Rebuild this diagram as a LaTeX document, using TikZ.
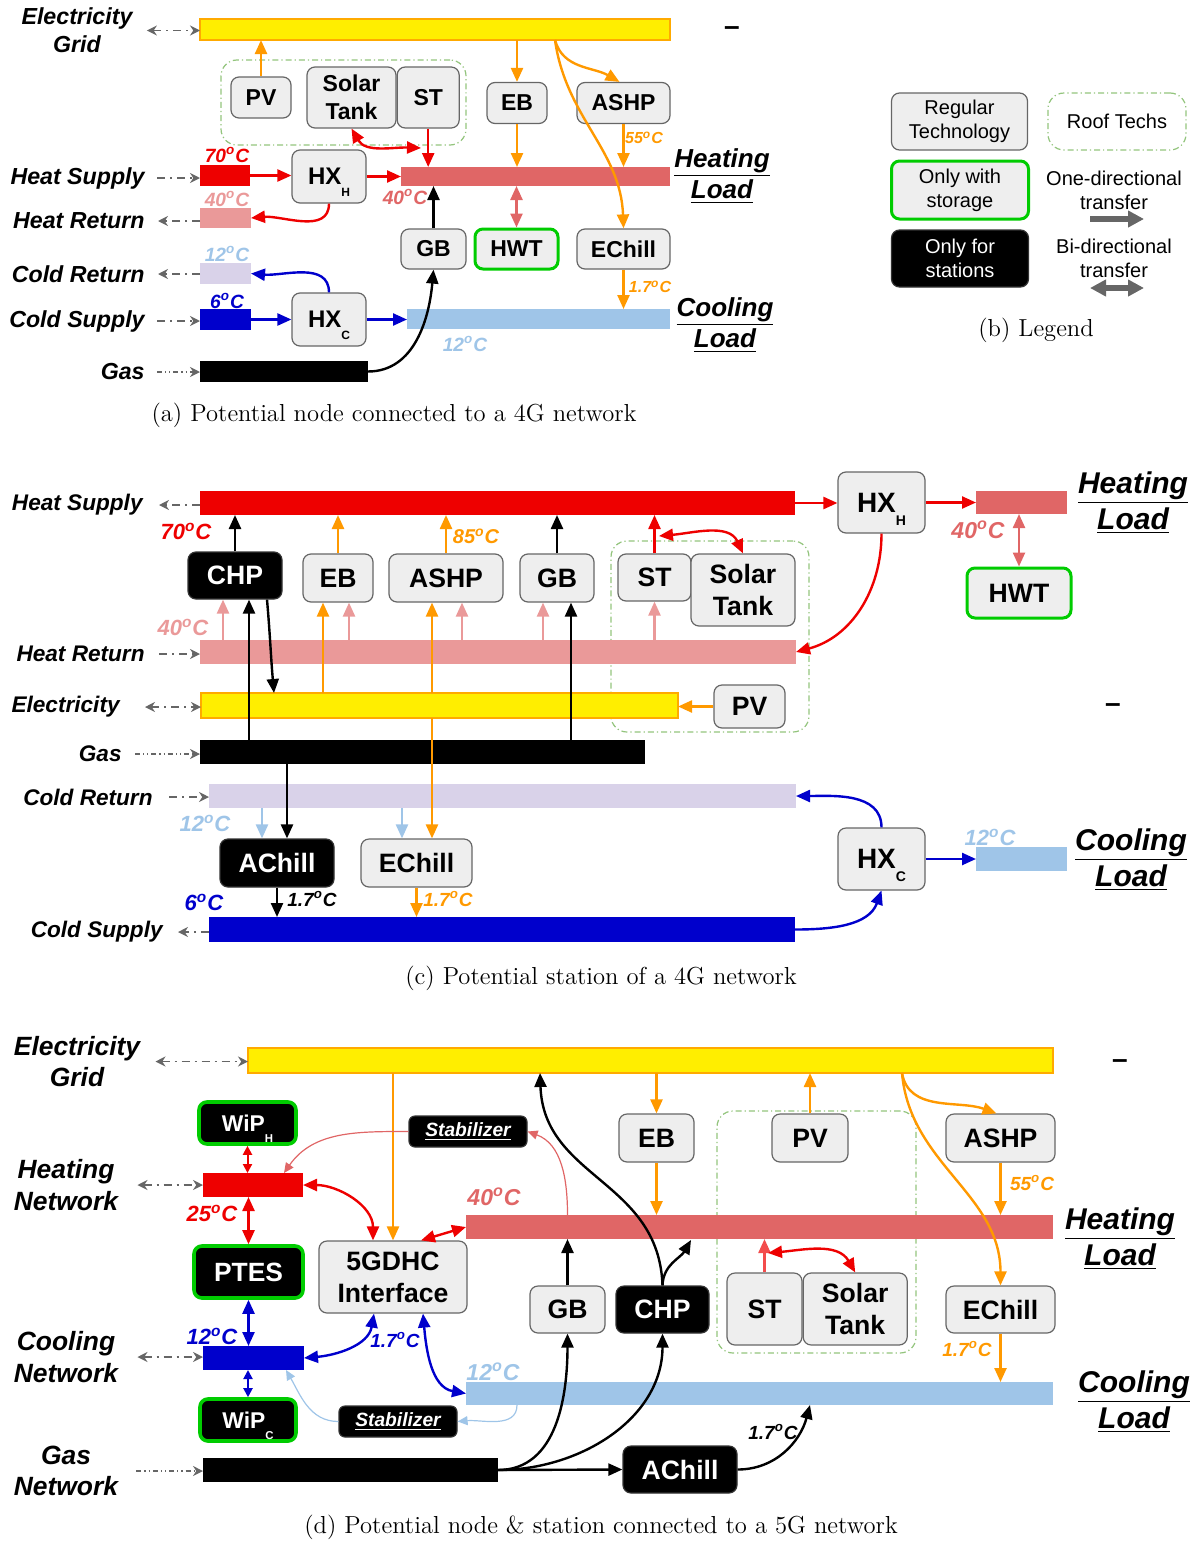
\documentclass[tikz,border=0pt]{standalone}
\usepackage{fontspec}
\newfontfamily\arial{Liberation Sans}
\usepackage{graphicx}
\usepackage{tikz}
\usetikzlibrary{arrows.meta, positioning}

\definecolor{yel}{HTML}{FFEE00}
\definecolor{ebord}{HTML}{FFAA00}
\definecolor{eorange}{HTML}{FF9900}
\definecolor{hsup}{HTML}{EE0000}
\definecolor{hret}{HTML}{EA9999}
\definecolor{hload}{HTML}{E06666}
\definecolor{cret}{HTML}{D9D2E9}
\definecolor{csup}{HTML}{0000CC}
\definecolor{cload}{HTML}{9FC5E8}
\definecolor{techfill}{HTML}{EEEEEE}
\definecolor{techline}{HTML}{666666}
\definecolor{storegreen}{HTML}{00CC00}
\definecolor{roofgreen}{HTML}{93C47D}
\definecolor{extgray}{HTML}{666666}

\newcommand{\dgc}{\textsuperscript{o}C}
\newcommand{\lowsub}[1]{\smash{\raisebox{-0.9ex}{\scalebox{0.5}{#1}}}}

\tikzset{
  sz/.style 2 args={minimum width=#1*0.5pt, minimum height=#2*0.5pt},
  tech/.style={draw=techline, fill=techfill, rounded corners=4pt, line width=0.6pt,
    inner sep=0pt, align=center,
    font=\arial\bfseries\fontsize{#1}{#1}\selectfont\setlength\baselineskip{1.2\baselineskip}},
  tech/.default=13.3,
  store/.style={tech=#1, draw=storegreen, line width=1.5pt},
  store/.default=13.3,
  station/.style={tech=#1, fill=black, draw=black!80, text=white},
  station/.default=13.3,
  wip/.style={station=#1, draw=storegreen, line width=1.8pt},
  wip/.default=12,
  stab/.style={station=9.6, rounded corners=3pt,
    font=\arial\bfseries\itshape\fontsize{9.6}{9.6}\selectfont},
  legend/.style={tech, font=\arial\fontsize{10}{10}\selectfont\setlength\baselineskip{1.2\baselineskip}},
  legtext/.style={align=center, inner sep=0pt,
    font=\arial\fontsize{10}{10}\selectfont\setlength\baselineskip{1.2\baselineskip}},
  bus/.style={inner sep=0pt, outer sep=0pt, anchor=north west},
  roof/.style={draw=roofgreen, line width=0.6pt, rounded corners=8pt, inner sep=0pt,
    dash pattern=on 3pt off 1.5pt on 0.6pt off 1.5pt},
  side/.style={align=center, inner sep=0pt,
    font=\arial\bfseries\itshape\fontsize{#1}{#1}\selectfont\setlength\baselineskip{1.2\baselineskip}},
  temp/.style={inner sep=0pt, font=\arial\bfseries\itshape\fontsize{#1}{#1}\selectfont},
  endmark/.style={inner sep=0pt, font=\arial\bfseries\fontsize{14}{14}\selectfont},
  capt/.style={inner sep=0pt, font=\fontsize{12.3}{14}\selectfont},
  link/.style={-{Triangle[length=7pt,width=6pt]}, line width=1.2pt},
  duplex/.style={{Triangle[length=7pt,width=6pt]}-{Triangle[length=7pt,width=6pt]}, line width=1.2pt},
  shortduo/.style={{Triangle[length=4.5pt,width=4.5pt]}-{Triangle[length=4.5pt,width=4.5pt]}, line width=1pt},
  thinlink/.style={-{Triangle[length=5pt,width=4.5pt]}, line width=0.6pt},
  ext/.style={-{Stealth[length=5pt,width=5pt]}, extgray, line width=0.9pt,
    dash pattern=on 4pt off 2.5pt on 1pt off 2.5pt},
  extduo/.style={ext, {Stealth[length=5pt,width=5pt]}-{Stealth[length=5pt,width=5pt]}},
  gasext/.style={ext, line width=0.6pt, dash pattern=on 2.5pt off 1.5pt on 0.6pt off 1.5pt on 0.6pt off 1.5pt},
  big/.style={-{Triangle[length=8pt,width=8pt]}, line width=2.6pt, extgray},
  bigduo/.style={big, {Triangle[length=8pt,width=8pt]}-{Triangle[length=8pt,width=8pt]}},
}

\begin{document}
\begin{tikzpicture}[x=0.5pt, y=-0.5pt]
    \useasboundingbox (0,0) rectangle (1197,1542);

    % ===== (a) node on a 4G network =====
    \node[roof, sz={245}{85}] (aRoof) at (343.5,102.5) {};

    % Draw buses
    \node[bus, fill=yel, draw=ebord, line width=0.6pt, sz={470}{21}] (aE) at (200,19) {};
    \node[bus, fill=hsup, sz={50}{21}] (aHS) at (200,165) {};
    \node[bus, fill=hret, sz={51}{20}] (aHR) at (200,208) {};
    \node[bus, fill=cret, sz={51}{21}] (aCR) at (200,263) {};
    \node[bus, fill=csup, sz={51}{21}] (aCS) at (200,309) {};
    \node[bus, fill=black, sz={168}{21}] (aG) at (200,361) {};
    \node[bus, fill=hload, sz={269}{19}] (aHL) at (401,167) {};
    \node[bus, fill=cload, sz={263}{20}] (aCL) at (407,309) {};

    % Technologies
    \node[tech=11.5, sz={60}{41}] (aPV) at (261,97.5) {PV};
    \node[tech=11.5, sz={89}{61}] (aSTk) at (351.5,97.5) {Solar\\Tank};
    \node[tech=11.5, sz={62}{61}, right=0pt of aSTk] (aST) {ST};
    \node[tech=11.5, sz={60}{41}] (aEB) at (517,103) {EB};
    \node[tech=11.5, sz={93}{41}] (aASHP) at (623.5,103) {ASHP};
    \node[tech=12, sz={74}{53}] (aHXH) at (329,176.5) {HX\lowsub{H}};
    \node[tech=12, sz={74}{53}] (aHXC) at (329,319.5) {HX\lowsub{C}};
    \node[tech=11.5, sz={65}{40}] (aGB) at (433.5,249) {GB};
    \node[store=11.5, sz={83}{40}] (aHWT) at (516.5,249) {HWT};
    \node[tech=11.5, sz={93}{40}] (aECh) at (623.5,249) {EChill};

    % Labels
    \node[side=11.6] (aEGl) at (77,30.5) {Electricity\\Grid};
    \node[side=11.6, anchor=east] (aHSl) at (145,178) {Heat Supply};
    \node[side=11.6, anchor=east] (aHRl) at (145,221) {Heat Return};
    \node[side=11.6, anchor=east] (aCRl) at (145,274) {Cold Return};
    \node[side=11.6, anchor=east] (aCSl) at (145,321) {Cold Supply};
    \node[side=11.6, anchor=east] (aGl) at (145,372) {Gas};
    \node[side=13] (aHLl) at (722,176) {\underline{Heating}\\\underline{Load}};
    \node[side=13] (aCLl) at (725,325) {\underline{Cooling}\\\underline{Load}};
    \node[endmark] (aEnd) at (732,31) {\textendash};

    \node[temp=9.6, text=hsup] (aT1) at (227,155) {70\dgc};
    \node[temp=9.6, text=hret] (aT2) at (227,199) {40\dgc};
    \node[temp=9.6, text=cload] (aT3) at (227,254) {12\dgc};
    \node[temp=9.6, text=csup] (aT4) at (227,301) {6\dgc};
    \node[temp=9.6, text=hload] (aT5) at (405,197) {40\dgc};
    \node[temp=9.6, text=cload] (aT6) at (465,344) {12\dgc};
    \node[temp=8, text=eorange] (aT7) at (644,138) {55\dgc};
    \node[temp=8, text=eorange] (aT8) at (650,287) {1.7\dgc};

    % Outside links
    \draw[extduo] ([xshift=7pt]aEGl.east) -- (aEGl.east -| aE.west);
    \draw[ext] ([xshift=6pt]aHSl.east) -- (aHSl.east -| aHS.west);
    \draw[ext] (aHRl.east -| aHR.west) -- ([xshift=6.5pt]aHRl.east);
    \draw[ext] (aCRl.east -| aCR.west) -- ([xshift=6.5pt]aCRl.east);
    \draw[ext] ([xshift=6pt]aCSl.east) -- (aCSl.east -| aCS.west);
    \draw[gasext] ([xshift=6pt]aGl.east) -- (aGl.east -| aG.west);

    % Flows
    \draw[link, eorange] (aPV.north) -- (aPV.north |- aE.south);
    \draw[link, hsup] (aST.south) -- (aST.south |- aHL.north);
    \coordinate (aSTj) at (421,148);
    \draw[duplex, hsup] (aSTk.south) to[out=-60, in=178] (aSTj);
    \draw[link, hsup] (aHS.east) -- (aHS.east -| aHXH.west);
    \draw[link, hsup] (aHXH.east) -- (aHXH.east -| aHL.west);
    \draw[link, hsup] (aHXH.south) to[out=-90, in=5] (aHR.east);
    \draw[link, csup] (aHXC.north) to[out=90, in=-5] (aCR.east);
    \draw[link, csup] (aCS.east) -- (aCS.east -| aHXC.west);
    \draw[link, csup] (aHXC.east) -- (aHXC.east -| aCL.west);
    \draw[link] (aG.east) to[out=0, in=-95] (aGB.south);
    \draw[link] (aGB.north) -- (aGB.north |- aHL.south);
    \draw[link, eorange] (aEB.north |- aE.south) -- (aEB.north);
    \draw[link, eorange] (aEB.south) -- (aEB.south |- aHL.north);
    \coordinate (aEtap) at (555,40);
    \draw[link, eorange] (aEtap) to[out=-75, in=150] ([xshift=-2pt]aASHP.north);
    \draw[link, eorange] (aEtap) to[out=-82, in=92] (aECh.north);
    \draw[link, eorange] (aASHP.south) -- (aASHP.south |- aHL.north);
    \draw[duplex, hload] (aHWT.north) -- (aHWT.north |- aHL.south);
    \draw[link, eorange] (aECh.south) -- (aECh.south |- aCL.north);

    \node[capt] (capA) at (394,415) {(a) Potential node connected to a 4G network};

    % ===== (b) legend =====
    \node[legend, sz={136}{57}] (bReg) at (959.5,121.5) {Regular\\Technology};
    \node[roof, sz={138}{57}, legtext] (bRoof) at (1117,121.5) {Roof Techs};
    \node[legend, draw=storegreen, line width=1.5pt, sz={137}{58}] (bSto) at (960,190) {Only with\\storage};
    \node[legend, fill=black, draw=black!80, text=white, sz={137}{57}] (bSta) at (960,258.5) {Only for\\stations};
    \node[legtext] (bOne) at (1114,190) {One-directional\\transfer};
    \node[legtext] (bBi) at (1114,258) {Bi-directional\\transfer};
    \coordinate (bOneA) at (1090,219);
    \coordinate (bOneB) at (1144,219);
    \draw[big] (bOneA) -- (bOneB);
    \coordinate (bBiA) at (1090,288);
    \coordinate (bBiB) at (1144,288);
    \draw[bigduo] (bBiA) -- (bBiB);
    \node[capt] (capB) at (1036,330) {(b) Legend};

    % ===== (c) station of a 4G network =====
    \node[roof, sz={198}{191}] (cRoof) at (710,636.5) {};

    % Draw buses
    \node[bus, fill=hsup, sz={595}{24}] (cHS) at (200,491) {};
    \node[bus, fill=hret, sz={596}{24}] (cHR) at (200,640) {};
    \node[bus, fill=yel, draw=ebord, line width=0.6pt, sz={477}{25}] (cE) at (201,693) {};
    \node[bus, fill=black, sz={445}{24}] (cG) at (200,740) {};
    \node[bus, fill=cret, sz={587}{24}] (cCR) at (209,784) {};
    \node[bus, fill=csup, sz={586}{25}] (cCS) at (209,917) {};
    \node[bus, fill=hload, sz={91}{23}] (cHL) at (976,491) {};
    \node[bus, fill=cload, sz={91}{24}] (cCL) at (976,847) {};

    % Technologies
    \node[station, sz={94}{47}] (cCHP) at (235,575.5) {CHP};
    \node[tech, sz={70}{48}] (cEB) at (338,578) {EB};
    \node[tech, sz={114}{48}] (cASHP) at (446,578) {ASHP};
    \node[tech, sz={74}{48}] (cGB) at (557,578) {GB};
    \node[tech, sz={73}{47}] (cST) at (654.5,577.5) {ST};
    \node[tech, sz={104}{72}] (cSTk) at (743,590) {Solar\\Tank};
    \node[tech, sz={71}{43}] (cPV) at (749.5,706.5) {PV};
    \node[tech=14, sz={87}{61}] (cHXH) at (881.5,502.5) {HX\lowsub{H}};
    \node[store, sz={104}{50}] (cHWT) at (1019,593) {HWT};
    \node[station, sz={114}{48}] (cACh) at (277,863) {AChill};
    \node[tech, sz={111}{48}] (cECh) at (416.5,863) {EChill};
    \node[tech=14, sz={87}{62}] (cHXC) at (881.5,859) {HX\lowsub{C}};

    % Labels
    \node[side=11.3, anchor=east] (cHSl) at (143,505) {Heat Supply};
    \node[side=11.3, anchor=east] (cHRl) at (145,654) {Heat Return};
    \node[side=11.3, anchor=east] (cEl) at (120,707) {Electricity};
    \node[side=11.3, anchor=east] (cGl) at (122,754) {Gas};
    \node[side=11.3, anchor=east] (cCRl) at (153,797) {Cold Return};
    \node[side=11.3, anchor=east] (cCSl) at (163,932) {Cold Supply};
    \node[side=15] (cHLl) at (1133,503) {\underline{Heating}\\\underline{Load}};
    \node[side=15] (cCLl) at (1131,860) {\underline{Cooling}\\\underline{Load}};
    \node[endmark] (cEnd) at (1113,708) {\textendash};

    \node[temp=11, text=hsup] (cT1) at (186,531) {70\dgc};
    \node[temp=11, text=hret] (cT2) at (183,627) {40\dgc};
    \node[temp=10, text=eorange] (cT3) at (476,536) {85\dgc};
    \node[temp=11.5, text=hload] (cT4) at (978,530) {40\dgc};
    \node[temp=11, text=cload] (cT5) at (205,823) {12\dgc};
    \node[temp=11, text=csup] (cT6) at (204,902) {6\dgc};
    \node[temp=9.5] (cT7) at (312,899) {1.7\dgc};
    \node[temp=9.5, text=eorange] (cT8) at (448,899) {1.7\dgc};
    \node[temp=11, text=cload] (cT9) at (990,837) {12\dgc};

    % Outside links
    \draw[ext] (cHSl.east -| cHS.west) -- ([xshift=8pt]cHSl.east);
    \draw[ext] ([xshift=7pt]cHRl.east) -- (cHRl.east -| cHR.west);
    \draw[extduo] ([xshift=12.5pt]cEl.east) -- (cEl.east -| cE.west);
    \draw[gasext] ([xshift=6.5pt]cGl.east) -- (cGl.east -| cG.west);
    \draw[ext] ([xshift=8pt]cCRl.east) -- (cCRl.east -| cCR.west);
    \draw[ext] (cCSl.east -| cCS.west) -- ([xshift=7.5pt]cCSl.east);

    % Flows
    \draw[link] (cCHP.north) -- (cCHP.north |- cHS.south);
    \draw[link, hret] ([xshift=-6pt]cCHP.south |- cHR.north) -- ([xshift=-6pt]cCHP.south);
    \draw[link] ([xshift=7pt]cCHP.south |- cG.north) -- ([xshift=7pt]cCHP.south);
    \draw[link] ([xshift=16pt]cCHP.south) to[out=-85, in=95] ([xshift=19.5pt]cCHP.south |- cE.north);
    \draw[link, eorange] (cEB.north) -- (cEB.north |- cHS.south);
    \draw[link, eorange] ([xshift=-7.5pt]cEB.south |- cE.north) -- ([xshift=-7.5pt]cEB.south);
    \draw[link, hret] ([xshift=5.5pt]cEB.south |- cHR.north) -- ([xshift=5.5pt]cEB.south);
    \draw[link, eorange] (cASHP.north) -- (cASHP.north |- cHS.south);
    \coordinate (cEtap) at (432,705);
    \draw[link, eorange] (cEtap |- cE.north) -- (cEtap |- cASHP.south);
    \draw[link, eorange] (cEtap |- cE.south) -- (cEtap |- cECh.north);
    \draw[link, hret] ([xshift=8pt]cASHP.south |- cHR.north) -- ([xshift=8pt]cASHP.south);
    \draw[link] (cGB.north) -- (cGB.north |- cHS.south);
    \draw[link, hret] ([xshift=-7pt]cGB.south |- cHR.north) -- ([xshift=-7pt]cGB.south);
    \draw[link] ([xshift=7pt]cGB.south |- cG.north) -- ([xshift=7pt]cGB.south);
    \draw[link, hsup] (cST.north) -- (cST.north |- cHS.south);
    \draw[link, hret] (cST.south |- cHR.north) -- (cST.south);
    \coordinate (cSTj) at (659,536);
    \draw[duplex, hsup] (cSTj) to[out=5, in=115] (cSTk.north);
    \draw[link, eorange] (cPV.west) -- (cPV.west -| cE.east);
    \draw[link, hsup] (cHS.east) -- (cHS.east -| cHXH.west);
    \draw[link, hsup] (cHXH.east) -- (cHXH.east -| cHL.west);
    \draw[link, hsup] (cHXH.south) to[out=-90, in=15] (cHR.east);
    \draw[duplex, hload] (cHWT.north) -- (cHWT.north |- cHL.south);
    \draw[link] ([xshift=5pt]cACh.north |- cG.south) -- ([xshift=5pt]cACh.north);
    \draw[link, cload] ([xshift=-7.5pt]cACh.north |- cCR.south) -- ([xshift=-7.5pt]cACh.north);
    \draw[link, cload] ([xshift=-7.25pt]cECh.north |- cCR.south) -- ([xshift=-7.25pt]cECh.north);
    \draw[link] (cACh.south) -- (cACh.south |- cCS.north);
    \draw[link, eorange] (cECh.south) -- (cECh.south |- cCS.north);
    \draw[link, csup] (cCS.east) to[out=0, in=-110] (cHXC.south);
    \draw[link, csup] (cHXC.north) to[out=90, in=0] (cCR.east);
    \draw[link, csup] (cHXC.east) -- (cHXC.east -| cCL.west);

    \node[capt] (capC) at (601,978) {(c) Potential station of a 4G network};

    % ===== (d) node & station on a 5G network =====
    \node[roof, sz={199}{242}] (dRoof) at (816.5,1232) {};

    % Draw buses
    \node[bus, fill=yel, draw=ebord, line width=0.6pt, sz={805}{25}] (dE) at (248,1048) {};
    \node[bus, fill=hsup, sz={100}{24}] (dHN) at (203,1173) {};
    \node[bus, fill=csup, sz={101}{24}] (dCN) at (203,1346) {};
    \node[bus, fill=black, sz={295}{24}] (dGN) at (203,1458) {};
    \node[bus, fill=hload, sz={587}{24}] (dHL) at (466,1215) {};
    \node[bus, fill=cload, sz={587}{23}] (dCL) at (466,1382) {};

    % Technologies
    \node[wip=11.4, sz={97}{42}] (dWiPH) at (247.5,1123) {WiP\lowsub{H}};
    \node[wip=13.2, sz={109}{52}] (dPTES) at (248.5,1272) {PTES};
    \node[wip=11.4, sz={96}{42}] (dWiPC) at (248,1420) {WiP\lowsub{C}};
    \node[tech, sz={148}{72}] (dIf) at (393,1277) {5GDHC\\Interface};
    \node[stab, sz={118}{31}] (dStab1) at (468,1131.5) {\underline{Stabilizer}};
    \node[stab, sz={118}{31}] (dStab2) at (398,1421.5) {\underline{Stabilizer}};
    \node[tech, sz={75}{47}] (dGB) at (567.5,1309.5) {GB};
    \node[station, sz={93}{47}] (dCHP) at (662.5,1309.5) {CHP};
    \node[tech, sz={75}{48}] (dEB) at (656.5,1138) {EB};
    \node[tech, sz={76}{48}] (dPV) at (810,1138) {PV};
    \node[tech, sz={109}{48}] (dASHP) at (1000.5,1138) {ASHP};
    \node[tech, sz={75}{72}] (dST) at (764.5,1309) {ST};
    \node[tech, sz={104}{72}, right=0pt of dST] (dSTk) {Solar\\Tank};
    \node[tech, sz={109}{47}] (dECh) at (1000.5,1309.5) {EChill};
    \node[station, sz={114}{47}] (dACh) at (680,1469.5) {AChill};

    % Labels
    \node[side=13.2] (dEGl) at (77,1061.5) {Electricity\\Grid};
    \node[side=13.2] (dHNl) at (66,1185) {Heating\\Network};
    \node[side=13.2] (dCNl) at (66,1357) {Cooling\\Network};
    \node[side=13.2] (dGNl) at (66,1471) {Gas\\Network};
    \node[side=15] (dHLl) at (1120,1238.5) {\underline{Heating}\\\underline{Load}};
    \node[side=15] (dCLl) at (1134,1402) {\underline{Cooling}\\\underline{Load}};
    \node[endmark] (dEnd) at (1120,1064) {\textendash};

    \node[temp=11, text=hsup] (dT1) at (212,1213) {25\dgc};
    \node[temp=11.5, text=hload] (dT2) at (494,1197) {40\dgc};
    \node[temp=11, text=csup] (dT3) at (212,1336) {12\dgc};
    \node[temp=9.5, text=csup] (dT4) at (395,1340) {1.7\dgc};
    \node[temp=11.5, text=cload] (dT5) at (493,1372) {12\dgc};
    \node[temp=9.5, text=eorange] (dT6) at (1032,1183) {55\dgc};
    \node[temp=9.5, text=eorange] (dT7) at (967,1349) {1.7\dgc};
    \node[temp=9.5] (dT8) at (773,1432) {1.7\dgc};

    % Outside links
    \draw[extduo] ([xshift=7.5pt]dEGl.east) -- (dEGl.east -| dE.west);
    \draw[extduo] ([xshift=9.5pt]dHNl.east) -- (dHNl.east -| dHN.west);
    \draw[extduo] ([xshift=9.5pt]dCNl.east) -- (dCNl.east -| dCN.west);
    \draw[gasext] ([xshift=9pt]dGNl.east) -- (dGNl.east -| dGN.west);

    % Storage and networks
    \draw[shortduo, hsup] (dWiPH.south) -- (dWiPH.south |- dHN.north);
    \draw[duplex, hsup] (dPTES.north |- dHN.south) -- (dPTES.north);
    \draw[duplex, csup] (dPTES.south) -- (dPTES.south |- dCN.north);
    \draw[shortduo, csup] (dWiPC.north |- dCN.south) -- (dWiPC.north);
    \draw[duplex, hsup] (dHN.east) to[out=0, in=90] ([xshift=-10pt]dIf.north);
    \draw[link, eorange] (dIf.north |- dE.south) -- (dIf.north);
    \draw[duplex, hsup] ([xshift=14pt]dIf.north) -- (dHL.west);
    \draw[duplex, csup] (dCN.east) to[out=5, in=-100] ([xshift=-9.5pt]dIf.south);
    \draw[duplex, csup] ([xshift=15pt]dIf.south) to[out=-85, in=170] (dCL.west);
    \draw[thinlink, hload] (dGB.north |- dHL.north) to[out=90, in=-20] (dStab1.east);
    \draw[thinlink, hload] (dStab1.west) to[out=180, in=55] ([xshift=-9.5pt]dHN.north east);
    \draw[thinlink, cload] ([xshift=25.5pt]dCL.south west) to[out=-90, in=5] (dStab2.east);
    \draw[thinlink, cload] (dStab2.west) to[out=180, in=-60] ([xshift=-9pt]dCN.south east);

    % Gas and plants
    \draw[link] (dGN.east) to[out=0, in=-90] (dGB.south);
    \draw[link] (dGN.east) to[out=0, in=-90] (dCHP.south);
    \draw[link] (dGN.east) -- (dACh.west);
    \draw[link] (dGB.north) -- (dGB.north |- dHL.south);
    \coordinate (dEchp) at (540,1073);
    \draw[link] (dCHP.north) to[out=92, in=-88, looseness=1.1] (dEchp);
    \coordinate (dHLchp) at (691,1240);
    \draw[link] (dCHP.north) to[out=88, in=-120] (dHLchp);
    \draw[link] (dACh.east) to[out=0, in=-105] (dPV.south |- dCL.south);
    \draw[link, eorange] (dEB.north |- dE.south) -- (dEB.north);
    \draw[link, eorange] (dEB.south) -- (dEB.south |- dHL.north);
    \draw[link, eorange] (dPV.north) -- (dPV.north |- dE.south);
    \coordinate (dEtap) at (902,1073);
    \draw[link, eorange] (dEtap) to[out=-80, in=160] ([xshift=-2pt]dASHP.north);
    \draw[link, eorange] (dEtap) to[out=-85, in=90] (dECh.north);
    \draw[link, eorange] (dASHP.south) -- (dASHP.south |- dHL.north);
    \draw[link, eorange] (dECh.south) -- (dECh.south |- dCL.north);
    \draw[link, hsup!70] (dST.north) -- (dST.north |- dHL.south);
    \coordinate (dSTj) at (768,1253);
    \draw[duplex, hsup] (dSTj) to[out=5, in=120] (dSTk.north);

    \node[capt] (capD) at (601,1527) {(d) Potential node \& station connected to a 5G network};
\end{tikzpicture}
\end{document}
